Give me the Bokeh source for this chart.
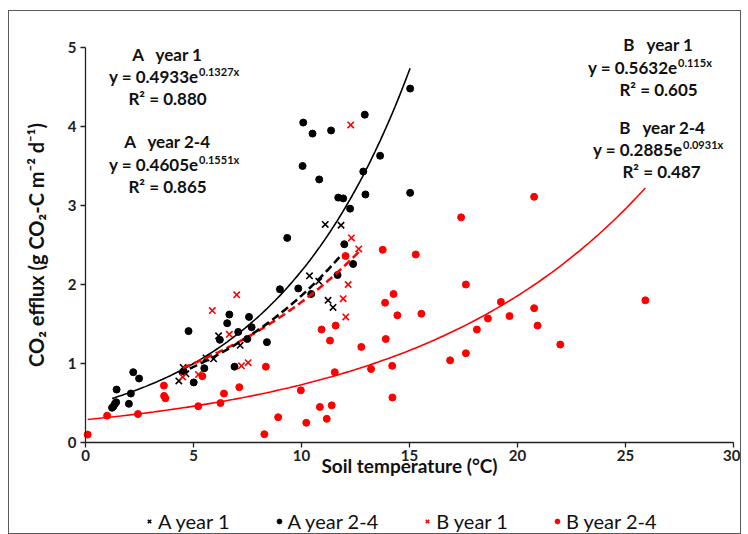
import numpy as np
from bokeh.plotting import figure
from bokeh.models import Legend, LegendItem, Label, FixedTicker
from bokeh.embed import file_html
from bokeh.resources import INLINE

# ---------------- data ----------------
a1_x = [4.32, 4.65, 4.52, 5.58, 5.93, 6.16, 7.16, 10.37, 10.80, 11.10, 11.23, 11.46, 11.83]
a1_y = [0.78, 0.87, 0.95, 1.07, 1.06, 1.35, 1.23, 2.11, 2.04, 2.76, 1.80, 1.71, 2.75]

a24_x = [1.23, 1.30, 1.36, 1.42, 1.44, 2.01, 2.10, 2.21, 2.48, 4.55, 4.77, 5.01, 5.50,
         6.22, 6.56, 6.66, 6.90, 7.07, 7.49, 7.57, 7.69, 8.40, 9.00, 9.34, 9.85, 10.05,
         10.08, 10.45, 10.51, 10.82, 11.37, 11.67, 11.70, 11.93, 11.98, 12.25, 12.39,
         12.86, 12.93, 12.96, 13.64, 15.03, 15.03]
a24_y = [0.44, 0.46, 0.49, 0.51, 0.67, 0.49, 0.62, 0.89, 0.81, 0.90, 1.41, 0.76, 0.94,
         1.30, 1.51, 1.62, 0.96, 1.40, 1.31, 1.59, 1.46, 1.27, 1.94, 2.59, 1.95, 3.50,
         4.05, 1.88, 3.91, 3.33, 3.95, 2.12, 3.10, 3.09, 2.51, 2.96, 2.26,
         3.43, 4.15, 3.14, 3.63, 4.48, 3.16]

b1_x = [4.50, 5.23, 5.87, 6.66, 7.00, 7.22, 7.53, 11.93, 12.05, 12.16, 12.28, 12.31, 12.65]
b1_y = [0.83, 0.86, 1.67, 1.37, 1.87, 0.97, 1.01, 1.82, 1.59, 2.00, 4.02, 2.59, 2.45]

b24_x = [0.10, 1.00, 2.43, 3.63, 3.64, 3.70, 5.22, 5.41, 6.25, 6.41, 7.12, 8.28, 8.35,
         8.92, 9.97, 10.22, 10.85, 10.93, 11.17, 11.32, 11.40, 11.54, 11.58, 12.04,
         12.77, 13.22, 13.76, 13.87, 13.90, 14.20, 14.21, 14.26, 14.44, 15.29, 15.55,
         16.88, 17.39, 17.61, 17.61, 18.12, 18.63, 19.23, 19.63, 20.77, 20.77, 20.93,
         21.98, 25.92]
b24_y = [0.10, 0.34, 0.36, 0.72, 0.59, 0.56, 0.46, 0.84, 0.50, 0.62, 0.70, 0.105, 0.96,
         0.32, 0.66, 0.25, 0.45, 1.43, 0.30, 1.29, 0.47, 0.89, 1.48, 2.36,
         1.21, 0.93, 2.44, 1.77, 1.31, 0.97, 0.57, 1.88, 1.61, 2.38, 1.63,
         1.04, 2.85, 2.00, 1.13, 1.43, 1.57, 1.78, 1.60, 3.11, 1.70, 1.48,
         1.24, 1.80]

# exponential trendlines printed on the chart: y = a * exp(b x)
trend_a = [0.4933, 0.4605, 0.5632, 0.2885]
trend_b = [0.1327, 0.1551, 0.115, 0.0931]
r2_text = ["0.880", "0.865", "0.605", "0.487"]
series_names = ["A year 1", "A year 2-4", "B year 1", "B year 2-4"]

x_ticks = [0, 5, 10, 15, 20, 25, 30]
y_ticks = [0, 1, 2, 3, 4, 5]

FONT = "Lato"
RED = "#FF0000"
BLK = "#000000"

# the frame covers the whole canvas (window x 8..741, y 10..534);
# x=0 sits at window x=84 (21.6 px/unit), y=0 at window y=441 (79 px/unit)
X_LEFT = (8 - 84) / 21.6
X_RIGHT = (741 - 84) / 21.6
Y_TOP = (441 - 10) / 79.0
Y_BOT = (441 - 534) / 79.0

p = figure(width=733, height=524, x_range=(X_LEFT, X_RIGHT), y_range=(Y_BOT, Y_TOP),
           output_backend="svg", toolbar_location=None,
           min_border_left=0, min_border_top=0, min_border_right=0, min_border_bottom=0,
           background_fill_color="white", border_fill_color="white")
p.outline_line_color = None
p.xgrid.visible = False
p.ygrid.visible = False

for ax in (p.xaxis[0], p.yaxis[0]):
    ax.axis_line_color = "#222222"
    ax.axis_line_width = 1.3
    ax.major_tick_line_color = "#222222"
    ax.major_tick_line_width = 1.3
    ax.major_tick_in = 0
    ax.major_tick_out = 5
    ax.minor_tick_line_color = None
    ax.major_label_text_font = FONT
    ax.major_label_text_font_style = "bold"
    ax.major_label_text_font_size = "15px"
    ax.major_label_text_color = "#222222"
    ax.axis_label_text_font = FONT
    ax.axis_label_text_font_style = "bold"
    ax.axis_label_text_font_size = "19px"
    ax.axis_label_text_color = "#111111"

p.yaxis.axis_label_text_font_size = "20px"
p.xaxis.bounds = (0, 30)
p.yaxis.bounds = (0, 5)
p.xaxis.fixed_location = 0
p.yaxis.fixed_location = 0
p.xaxis.ticker = FixedTicker(ticks=x_ticks)
p.yaxis.ticker = FixedTicker(ticks=y_ticks)
p.xaxis.axis_label = "Soil temperature (°C)"
p.yaxis.axis_label = "CO₂ efflux (g CO₂-C m⁻² d⁻¹)"
p.xaxis.major_label_standoff = 2
p.xaxis.axis_label_standoff = -10
p.yaxis.major_label_standoff = 4
p.yaxis.axis_label_standoff = 17

# ---------------- points ----------------
r_a24 = p.scatter(a24_x, a24_y, marker="circle", size=7, color=BLK, line_color=BLK)
r_b24 = p.scatter(b24_x, b24_y, marker="circle", size=7, color=RED, line_color=RED)
r_a1 = p.scatter(a1_x, a1_y, marker="x", size=9, line_color=BLK, line_width=1.6)
r_b1 = p.scatter(b1_x, b1_y, marker="x", size=9, line_color=RED, line_width=1.6)

# ---------------- trendlines ----------------
def curve(xs, a, b):
    xx = np.linspace(min(xs), max(xs), 120)
    return xx, a * np.exp(b * xx)

xx, yy = curve(a24_x, trend_a[1], trend_b[1])
p.line(xx, yy, color=BLK, line_width=1.6)
xx, yy = curve(b24_x, trend_a[3], trend_b[3])
p.line(xx, yy, color=RED, line_width=1.6)
xx, yy = curve(b1_x, trend_a[2], trend_b[2])
p.line(xx, yy, color=RED, line_width=2.6, line_dash="8 4")
xx, yy = curve(a1_x, trend_a[0], trend_b[0])
p.line(xx, yy, color=BLK, line_width=2.6, line_dash="8 4")

# ---------------- annotations ----------------
def dx(px):
    return (px - 84) / 21.6

def dy(py):
    return (441 - py) / 79.0

def lab(px, py, text, size, align="center"):
    p.add_layout(Label(x=dx(px), y=dy(py), text=text, text_font=FONT,
                       text_font_style="bold", text_font_size=size,
                       text_align=align, text_baseline="alphabetic", text_color="#111111"))

# (title x-centre, equation split point, r2 centre, baselines, title)
blocks = [
    (166, 197, 166, 53, 75, 97, "A\u00a0\u00a0 year 1"),
    (166, 197, 166, 140, 163, 185, "A\u00a0\u00a0 year 2-4"),
    (657, 676, 657, 43, 66, 88, "B\u00a0\u00a0 year 1"),
    (661, 681, 660, 126, 148, 170, "B\u00a0\u00a0 year 2-4"),
]
for i, (cx, sx, rx, b1, b2, b3, title) in enumerate(blocks):
    lab(cx, b1, title, "17px")
    lab(sx, b2, "y = %se" % str(trend_a[i]), "17px", "right")
    lab(sx + 0.5, b2 - 5, "%sx" % str(trend_b[i]), "11px", "left")
    lab(rx, b3, "R² = %s" % r2_text[i], "17px")

# ---------------- legend ----------------
legend = Legend(items=[LegendItem(label=series_names[0], renderers=[r_a1]),
                       LegendItem(label=series_names[1], renderers=[r_a24]),
                       LegendItem(label=series_names[2], renderers=[r_b1]),
                       LegendItem(label=series_names[3], renderers=[r_b24])],
                orientation="horizontal", location=(134, 2),
                label_text_font=FONT, label_text_font_size="20px", label_text_color="#111111",
                glyph_width=12, glyph_height=12, label_standoff=3, spacing=43,
                border_line_color=None, background_fill_alpha=0, padding=2, margin=0)
p.add_layout(legend, "center")

p.margin = (10, 0, 0, 8)
p.styles = {"border": "1px solid #595959"}

open("out.html", "w").write(file_html(p, INLINE))
